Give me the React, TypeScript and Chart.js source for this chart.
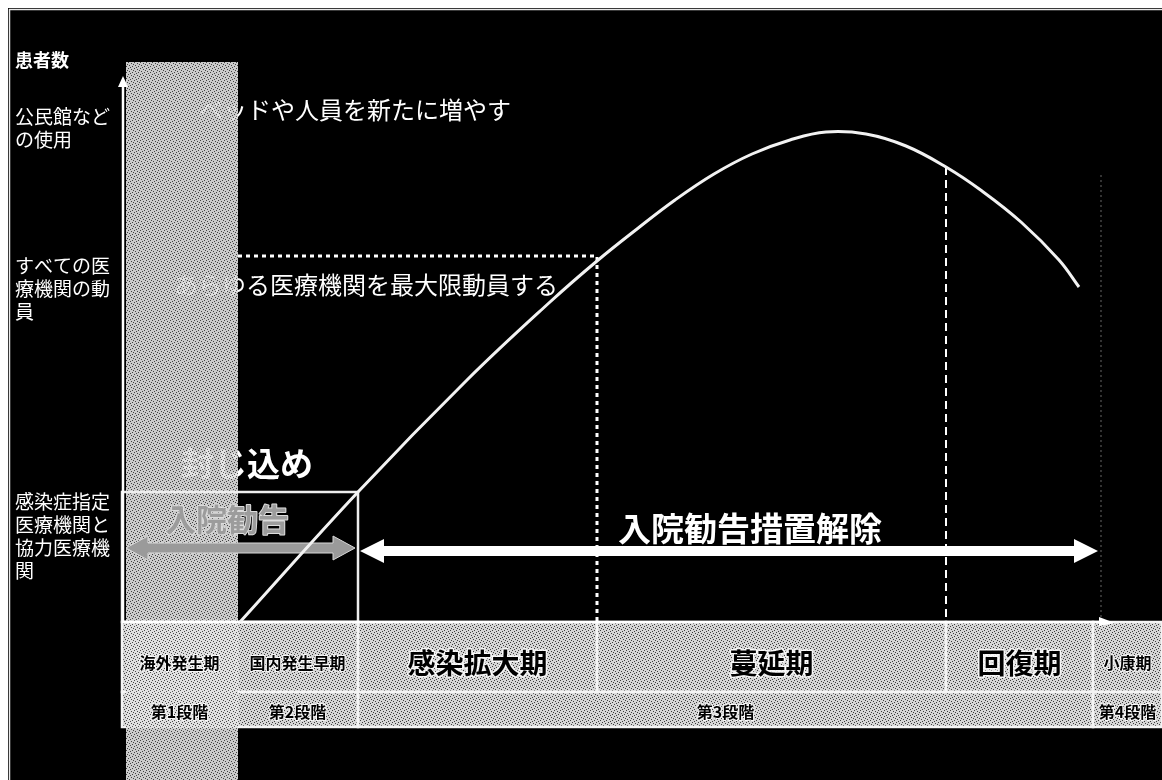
import { useEffect, useRef } from 'react'
import { Chart, registerables } from 'chart.js'

Chart.register(...registerables)

// ─── Data ───────────────────────────────────────────────────────────────────
// x = time (arbitrary units), y = number of patients (arbitrary units)

const curveX = [11.8, 23.6, 34.5, 42.8, 47.5, 51.5, 55.3, 59.2, 63.0, 66.8, 70.4, 74.4, 78.4, 82.4, 86.0, 89.9, 93.7, 95.7]
const curveY = [0, 13.0, 24.2, 32.0, 36.1, 39.3, 42.2, 44.8, 46.8, 48.2, 49.0, 48.8, 47.6, 45.5, 43.1, 40.0, 36.2, 33.5]

const phaseNames = ['海外発生期', '国内発生早期', '感染拡大期', '蔓延期', '回復期', '小康期']
const phaseEdges = [0, 11.5, 23.6, 47.5, 82.4, 97.1, 104]

const stageNames = ['第1段階', '第2段階', '第3段階', '第4段階']
const stageEdges = [0, 11.5, 23.6, 97.1, 104]

const yAxisTitle = '患者数'
const levelLabels = [
  ['公民館など', 'の使用'],
  ['すべての医', '療機関の動', '員'],
  ['感染症指定', '医療機関と', '協力医療機', '関'],
]
const levelValues = [51.5, 36.6, 13]

const measureTexts = ['ベッドや人員を新たに増やす', 'あらゆる医療機関を最大限動員する']
const containText = '封じ込め'
const admitText = '入院勧告'
const releaseText = '入院勧告措置解除'

// ─── Styles ─────────────────────────────────────────────────────────────────

const W = 1154
const H = 772
const FONT = '"Noto Sans CJK JP", "Noto Sans", sans-serif'
const PHASE_FONT = [16, 16, 28, 28, 28, 16]
const PHASE_ROW = [0, -7]
const STAGE_ROW = [-7, -10.5]

function makeHalftone(ctx: CanvasRenderingContext2D, base: string, dot: string) {
  const c = document.createElement('canvas')
  c.width = 6
  c.height = 6
  const g = c.getContext('2d')!
  g.fillStyle = base
  g.fillRect(0, 0, 6, 6)
  g.fillStyle = dot
  const dots = [[0, 0], [3, 1], [1, 3], [4, 4], [2, 5], [5, 2]]
  dots.forEach(([a, b]) => g.fillRect(a, b, 1, 1))
  return ctx.createPattern(c, 'repeat') ?? base
}

function curveAt(v: number) {
  for (let i = 1; i < curveX.length; i++) {
    if (v <= curveX[i]) {
      const t = (v - curveX[i - 1]) / (curveX[i] - curveX[i - 1])
      return curveY[i - 1] + t * (curveY[i] - curveY[i - 1])
    }
  }
  return curveY[curveY.length - 1]
}

function doubleArrow(
  ctx: CanvasRenderingContext2D,
  xa: number, xb: number, yc: number,
  shaft: number, headLen: number, headHalf: number,
) {
  ctx.beginPath()
  ctx.moveTo(xa, yc)
  ctx.lineTo(xa + headLen, yc - headHalf)
  ctx.lineTo(xa + headLen, yc - shaft)
  ctx.lineTo(xb - headLen, yc - shaft)
  ctx.lineTo(xb - headLen, yc - headHalf)
  ctx.lineTo(xb, yc)
  ctx.lineTo(xb - headLen, yc + headHalf)
  ctx.lineTo(xb - headLen, yc + shaft)
  ctx.lineTo(xa + headLen, yc + shaft)
  ctx.lineTo(xa + headLen, yc + headHalf)
  ctx.closePath()
}

function outlinedText(
  ctx: CanvasRenderingContext2D, text: string, x: number, y: number,
  fill: string, stroke: string, width: number,
) {
  ctx.lineJoin = 'round'
  ctx.lineWidth = width
  ctx.strokeStyle = stroke
  ctx.strokeText(text, x, y)
  ctx.fillStyle = fill
  ctx.fillText(text, x, y)
}

const diagramPlugin = {
  id: 'diagram',
  beforeDraw(chart: Chart) {
    const { ctx } = chart
    ctx.save()
    ctx.fillStyle = '#000'
    ctx.fillRect(0, 0, W, H)
    // scanned page frame
    ctx.strokeStyle = '#e8e8e8'
    ctx.lineWidth = 1.5
    ctx.beginPath()
    ctx.moveTo(1.5, H)
    ctx.lineTo(1.5, 1.5)
    ctx.lineTo(W, 1.5)
    ctx.stroke()
    ctx.restore()
  },
  beforeDatasetsDraw(chart: Chart) {
    const { ctx, scales } = chart
    const X = (v: number) => scales.x.getPixelForValue(v)
    const Y = (v: number) => scales.y.getPixelForValue(v)
    const cellFill = makeHalftone(ctx, '#d6d6d6', '#3c3c3c')
    const bandFill = makeHalftone(ctx, '#e2e2e2', '#4a4a4a')

    ctx.save()
    ctx.textBaseline = 'middle'

    // y-axis title and level labels
    ctx.fillStyle = '#fff'
    ctx.textAlign = 'left'
    ctx.font = `bold 18px ${FONT}`
    ctx.fillText(yAxisTitle, X(-10.7), Y(56.2))
    ctx.font = `19px ${FONT}`
    levelLabels.forEach((lines, i) => {
      lines.forEach((line, j) => {
        ctx.fillText(line, X(-10.7), Y(levelValues[i]) + 10 + j * 23)
      })
    })

    // measures (drawn before the band, which partly hides them)
    ctx.font = `24px ${FONT}`
    ctx.fillText(measureTexts[0], X(7.7), Y(levelValues[0] - 0.3))
    ctx.fillText(measureTexts[1], X(5.2), Y(levelValues[1] - 2.9))
    ctx.font = `bold 33px ${FONT}`
    ctx.fillText(containText, X(5.9), Y(15.9))

    // phase row and stage row
    const cell = (x0: number, x1: number, y0: number, y1: number) => {
      ctx.fillStyle = cellFill
      ctx.fillRect(X(x0), Y(y0), X(x1) - X(x0), Y(y1) - Y(y0))
      ctx.strokeStyle = '#f4f4f4'
      ctx.lineWidth = 2.5
      ctx.strokeRect(X(x0), Y(y0), X(x1) - X(x0), Y(y1) - Y(y0))
    }
    phaseNames.forEach((_, i) => cell(phaseEdges[i], phaseEdges[i + 1], PHASE_ROW[0], PHASE_ROW[1]))
    stageNames.forEach((_, i) => cell(stageEdges[i], stageEdges[i + 1], STAGE_ROW[0], STAGE_ROW[1]))

    // overseas-phase band across the full height
    ctx.globalAlpha = 0.9
    ctx.fillStyle = bandFill
    ctx.fillRect(X(0.4), Y(56), X(phaseEdges[1] + 0.1) - X(0.4), Y(-15.8) - Y(56))
    ctx.globalAlpha = 1

    // hospital admission box
    ctx.strokeStyle = '#eeeeee'
    ctx.lineWidth = 2.5
    ctx.strokeRect(X(0), Y(levelValues[2]), X(phaseEdges[2]) - X(0), Y(0) - Y(levelValues[2]))

    // dotted guides
    ctx.strokeStyle = '#fff'
    ctx.lineWidth = 3
    ctx.setLineDash([4, 4])
    ctx.beginPath()
    ctx.moveTo(X(phaseEdges[1] + 0.1), Y(levelValues[1]))
    ctx.lineTo(X(phaseEdges[3]), Y(levelValues[1]))
    ctx.lineTo(X(phaseEdges[3]), Y(0))
    ctx.stroke()
    ctx.lineWidth = 2
    ctx.setLineDash([8, 5])
    ctx.beginPath()
    ctx.moveTo(X(phaseEdges[4]), Y(curveAt(phaseEdges[4])))
    ctx.lineTo(X(phaseEdges[4]), Y(0))
    ctx.stroke()
    ctx.strokeStyle = 'rgba(170,170,170,0.6)'
    ctx.lineWidth = 1
    ctx.setLineDash([2, 3])
    ctx.beginPath()
    ctx.moveTo(X(97.9), Y(44.7))
    ctx.lineTo(X(97.9), Y(0))
    ctx.stroke()
    ctx.setLineDash([])

    // admission arrow (grey) and release arrow (white)
    doubleArrow(ctx, X(0.4), X(23.3), Y(7.4), 5, 22, 12)
    ctx.fillStyle = '#9a9a9a'
    ctx.fill()
    ctx.strokeStyle = '#d8d8d8'
    ctx.lineWidth = 1
    ctx.stroke()
    ctx.font = `bold 31px ${FONT}`
    ctx.textAlign = 'left'
    outlinedText(ctx, admitText, X(4.3), Y(10.3), '#9c9c9c', '#dcdcdc', 2)

    doubleArrow(ctx, X(23.8), X(97.6), Y(7.1), 5, 24, 12)
    ctx.fillStyle = '#fff'
    ctx.fill()
    ctx.font = `bold 33px ${FONT}`
    ctx.fillText(releaseText, X(49.6), Y(9.4))

    // axes with arrow heads
    ctx.strokeStyle = '#fff'
    ctx.fillStyle = '#fff'
    ctx.lineWidth = 2.5
    ctx.beginPath()
    ctx.moveTo(X(0.1), Y(0))
    ctx.lineTo(X(0.1), Y(53.6))
    ctx.moveTo(X(0), Y(0))
    ctx.lineTo(X(97.8), Y(0))
    ctx.stroke()
    ctx.beginPath()
    ctx.moveTo(X(0.1), Y(54.6))
    ctx.lineTo(X(0.1) - 5, Y(53.5))
    ctx.lineTo(X(0.1) + 5, Y(53.5))
    ctx.closePath()
    ctx.fill()
    ctx.beginPath()
    ctx.moveTo(X(99.3), Y(0) + 1)
    ctx.lineTo(X(97.7), Y(0) - 5)
    ctx.lineTo(X(97.7), Y(0) + 4)
    ctx.closePath()
    ctx.fill()

    // phase and stage names
    ctx.textAlign = 'center'
    phaseNames.forEach((name, i) => {
      ctx.font = `bold ${PHASE_FONT[i]}px ${FONT}`
      const cx = X((phaseEdges[i] + phaseEdges[i + 1]) / 2)
      outlinedText(ctx, name, cx, Y(-4.1), '#000', 'rgba(255,255,255,0.85)', PHASE_FONT[i] > 20 ? 3 : 2)
    })
    ctx.font = `bold 16px ${FONT}`
    stageNames.forEach((name, i) => {
      const cx = X((stageEdges[i] + stageEdges[i + 1]) / 2)
      outlinedText(ctx, name, cx, Y(-9.0), '#000', 'rgba(255,255,255,0.85)', 2)
    })
    ctx.restore()
  },
}

export default function App() {
  const canvasRef = useRef<HTMLCanvasElement>(null)

  useEffect(() => {
    const canvas = canvasRef.current
    if (!canvas) return
    const chart = new Chart(canvas, {
      type: 'line',
      data: {
        datasets: [
          {
            data: curveX.map((x, i) => ({ x, y: curveY[i] })),
            borderColor: '#f2f2f2',
            borderWidth: 3,
            pointRadius: 0,
            tension: 0.4,
            fill: false,
          },
        ],
      },
      options: {
        animation: false,
        responsive: false,
        events: [],
        layout: { padding: { left: 114, right: 0, top: 54, bottom: 0 } },
        plugins: { legend: { display: false }, tooltip: { enabled: false } },
        scales: {
          x: { type: 'linear', min: 0, max: 104, display: false },
          y: { type: 'linear', min: -15.8, max: 56, display: false },
        },
      },
      plugins: [diagramPlugin],
    })
    return () => chart.destroy()
  }, [])

  return (
    <div style={{ position: 'fixed', left: 8, top: 8, width: W, height: H, background: '#000' }}>
      <canvas ref={canvasRef} width={W} height={H} style={{ display: 'block', width: W, height: H }} />
    </div>
  )
}
